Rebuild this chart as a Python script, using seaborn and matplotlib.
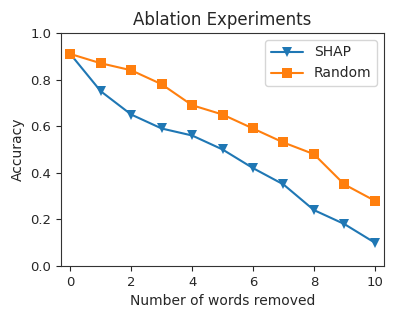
import pandas as pd
import numpy as np
import seaborn as sns
import matplotlib
matplotlib.use("Agg")
import matplotlib.pyplot as plt

## Data
words_removed = [0, 1, 2, 3, 4, 5, 6, 7, 8, 9, 10]
shap_acc = [0.91, 0.75, 0.65, 0.59, 0.56, 0.50, 0.42, 0.35, 0.24, 0.18, 0.10]
random_acc = [0.91, 0.87, 0.84, 0.78, 0.69, 0.65, 0.59, 0.53, 0.48, 0.35, 0.28]

df = pd.DataFrame({
    "words": words_removed * 2,
    "accuracy": shap_acc + random_acc,
    "method": ["SHAP"] * len(shap_acc) + ["Random"] * len(random_acc),
})

sns.set_style("ticks")
plt.rcParams['font.family'] = ['DejaVu Sans']

fig = plt.figure(figsize=(3.97, 3.17), dpi=100)
ax = fig.add_axes([0.154, 0.161, 0.813, 0.735])

sns.lineplot(data=df, x="words", y="accuracy", hue="method", style="method",
             palette={"SHAP": "#1f77b4", "Random": "#ff7f0e"},
             markers={"SHAP": "v", "Random": "s"}, dashes=False,
             markersize=7, markeredgewidth=0, linewidth=1.5, ax=ax)

ax.set_ylim(0, 1.0)
ax.set_xlim(-0.3, 10.3)
ax.set_xticks([0, 2, 4, 6, 8, 10])
ax.set_yticks([0.0, 0.2, 0.4, 0.6, 0.8, 1.0])
ax.tick_params(labelsize=9.5, length=3.5)
ax.set_xlabel("Number of words removed", fontsize=10)
ax.set_ylabel("Accuracy", fontsize=10)
ax.set_title("Ablation Experiments", fontsize=12)
for s in ax.spines.values():
    s.set_color("#333333")

ax.legend(loc="upper right", fontsize=10, title=None, handlelength=2.3)

fig.savefig("out.png", dpi=100)
